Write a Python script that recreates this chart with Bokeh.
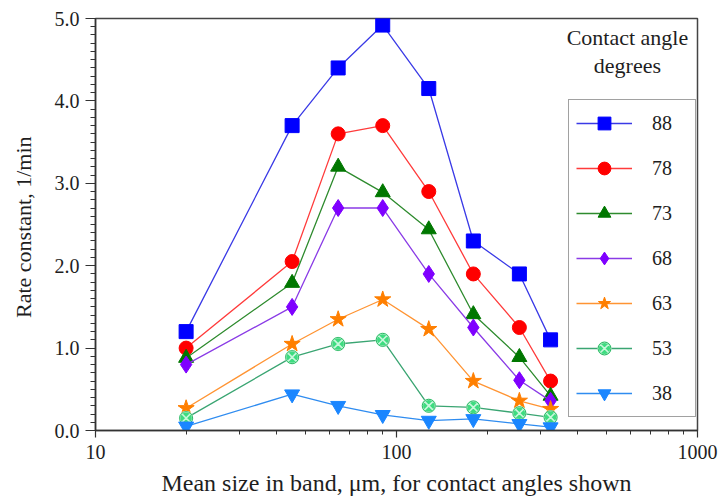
from bokeh.plotting import figure
from bokeh.models import (Range1d, FixedTicker, NumeralTickFormatter, Legend,
                          LegendItem, Label)
from bokeh.embed import file_html
from bokeh.resources import INLINE

# ---- data ----
sizes = [20, 45, 64, 90, 128, 180, 256, 325]
k88 = [1.2, 3.7, 4.4, 4.92, 4.15, 2.3, 1.9, 1.1]
k78 = [1.0, 2.05, 3.6, 3.7, 2.9, 1.9, 1.25, 0.6]
k73 = [0.88, 1.79, 3.2, 2.89, 2.44, 1.41, 0.89, 0.42]
k68 = [0.8, 1.5, 2.7, 2.7, 1.9, 1.25, 0.61, 0.36]
k63 = [0.27, 1.05, 1.35, 1.59, 1.23, 0.6, 0.36, 0.26]
k53 = [0.15, 0.89, 1.05, 1.1, 0.3, 0.28, 0.21, 0.16]
k38 = [0.05, 0.44, 0.3, 0.19, 0.12, 0.14, 0.08, 0.04]
angles = ["88", "78", "73", "68", "63", "53", "38"]

y_ticks = [0, 1, 2, 3, 4, 5]
x_ticks = [10, 100, 1000]

FONT = "Liberation Serif"
TXT = "#1e1e1e"

p = figure(width=719, height=502, x_axis_type="log",
           x_range=Range1d(10, 1000), y_range=Range1d(0, 5),
           output_backend="svg", toolbar_location=None, title=None,
           min_border_left=95, min_border_right=22,
           min_border_top=18, min_border_bottom=72)
p.background_fill_color = "white"
p.border_fill_color = "white"
p.outline_line_color = "#444444"
p.outline_line_width = 1.5
p.grid.visible = False

styles = [
    (k88, "square", "#3a3ae6", "#0000ff", "#0000ff", 14),
    (k78, "circle", "#ff3b3b", "#ff0000", "#ff0000", 14),
    (k73, "triangle", "#2e8b2e", "#007700", "#007700", 15),
    (k68, "diamond", "#8a3be6", "#7f00ff", "#7f00ff", 17),
    (k63, "star", "#ff9433", "#ff7f00", "#ff7f00", 17),
    (k53, "circle_x", "#3aa572", "#3edc80", "#c9f7dc", 13),
    (k38, "inverted_triangle", "#2f8cf0", "#1a86ff", "#1a86ff", 15),
]

items = []
for (vals, marker, lc, fc, mlc, sz), lab in zip(styles, angles):
    r1 = p.line(sizes, vals, line_color=lc, line_width=1.3)
    rs = [r1]
    if marker == "circle_x":
        r2 = p.scatter(sizes, vals, marker="circle_x", size=sz, fill_color=fc,
                       line_color=mlc, line_width=1.6)
        r3 = p.scatter(sizes, vals, marker="circle", size=sz, fill_color=None,
                       line_color="#2fb866", line_width=1.0)
        rs += [r2, r3]
    else:
        r2 = p.scatter(sizes, vals, marker=marker, size=sz, fill_color=fc,
                       line_color=mlc, line_width=1)
        rs.append(r2)
    items.append(LegendItem(label=lab, renderers=rs))

legend = Legend(items=items, location=(473, 13))
legend.label_text_font = FONT
legend.label_text_font_size = "20px"
legend.label_text_color = TXT
legend.glyph_width = 56
legend.glyph_height = 32
legend.label_height = 24
legend.label_width = 36
legend.label_standoff = 20
legend.spacing = 13
legend.padding = 7
legend.margin = 0
legend.border_line_color = "#444444"
legend.border_line_width = 1.5
legend.background_fill_alpha = 1.0
p.add_layout(legend)

# legend heading (outside the legend box, as in the reference)
p.add_layout(Label(x=585, y=4.77, text="Contact angle", text_align="center",
                   text_baseline="middle", text_font=FONT,
                   text_font_size="22px", text_color=TXT))
p.add_layout(Label(x=585, y=4.43, text="degrees", text_align="center",
                   text_baseline="middle", text_font=FONT,
                   text_font_size="22px", text_color=TXT))

# axes
xa = p.xaxis[0]
xa.ticker = FixedTicker(ticks=x_ticks,
                        minor_ticks=[20, 30, 40, 50, 60, 70, 80, 90,
                                     200, 300, 400, 500, 600, 700, 800, 900])
xa.formatter = NumeralTickFormatter(format="0")
xa.axis_label = "Mean size in band, \u03bcm, for contact angles shown"

ya = p.yaxis[0]
ya.ticker = FixedTicker(ticks=y_ticks,
                        minor_ticks=[i / 10 for i in range(0, 51)])
ya.formatter = NumeralTickFormatter(format="0.0")
ya.axis_label = "Rate constant,  1/min"

for ax in (xa, ya):
    ax.axis_line_color = "#333333"
    ax.axis_line_width = 1.5
    ax.major_tick_line_color = "#333333"
    ax.minor_tick_line_color = "#333333"
    ax.major_tick_line_width = 1.2
    ax.minor_tick_line_width = 1.0
    ax.major_tick_in = 0
    ax.minor_tick_in = 0
    ax.major_label_text_font = FONT
    ax.major_label_text_font_size = "20px"
    ax.major_label_text_color = TXT
    ax.axis_label_text_font = FONT
    ax.axis_label_text_font_style = "normal"
    ax.axis_label_text_color = TXT

xa.axis_label_text_font_size = "24px"
ya.axis_label_text_font_size = "22px"
xa.major_tick_out = 7
xa.minor_tick_out = 4
xa.major_label_standoff = 7
xa.axis_label_standoff = 8
ya.major_tick_out = 10
ya.minor_tick_out = 5
ya.major_label_standoff = 6
ya.axis_label_standoff = 16

open("out.html", "w").write(file_html(p, INLINE))
